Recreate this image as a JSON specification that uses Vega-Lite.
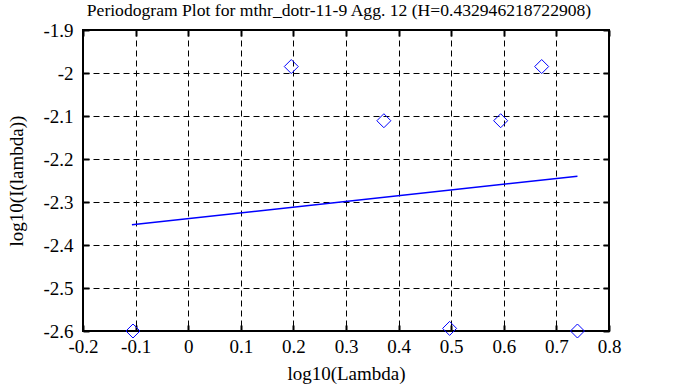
{
  "$schema": "https://vega.github.io/schema/vega-lite/v6.json",
  "autosize": "none",
  "width": 526,
  "height": 301,
  "padding": {"left": 83, "top": 30, "right": 69, "bottom": 56},
  "background": "white",
  "config": {
    "font": "Liberation Serif",
    "view": {"stroke": "black", "strokeWidth": 2},
    "axis": {"labelFont": "Liberation Serif", "titleFont": "Liberation Serif", "labelFontSize": 19, "titleFontSize": 19, "labelColor": "black", "titleColor": "black", "titleFontWeight": "normal"}
  },
  "title": {"text": "Periodogram Plot for mthr_dotr-11-9 Agg. 12 (H=0.432946218722908)", "font": "Liberation Serif", "fontSize": 17.6, "fontWeight": "normal", "color": "black", "anchor": "middle", "dx": -7, "offset": -17, "baseline": "bottom"},
  "resolve": {"axis": {"x": "independent", "y": "independent"}},
  "layer": [
    {
      "data": {"values": [
        {"x": -0.105, "y": -2.600},
        {"x": 0.196, "y": -1.985},
        {"x": 0.372, "y": -2.111},
        {"x": 0.497, "y": -2.594},
        {"x": 0.594, "y": -2.111},
        {"x": 0.672, "y": -1.985},
        {"x": 0.740, "y": -2.600}
      ]},
      "mark": {"type": "point", "shape": "diamond", "size": 196, "filled": false, "stroke": "#0000ff", "strokeWidth": 1, "opacity": 1, "clip": false},
      "encoding": {
        "x": {"field": "x", "type": "quantitative", "scale": {"domain": [-0.2, 0.8], "nice": false, "zero": false},
          "axis": {"orient": "bottom", "title": "log10(Lambda)", "titlePadding": 8, "values": [-0.2,-0.1,0,0.1,0.2,0.3,0.4,0.5,0.6,0.7,0.8], "labelExpr": "'' + round(datum.value*10)/10", "labelPadding": 12, "tickSize": -6, "tickColor": "black", "tickWidth": 2, "domain": false, "grid": true, "gridColor": "black", "gridDash": [6, 4], "gridWidth": 1, "gridOpacity": 1, "labelFlush": false}},
        "y": {"field": "y", "type": "quantitative", "scale": {"domain": [-2.6, -1.9], "nice": false, "zero": false},
          "axis": {"orient": "left", "title": "log10(I(lambda))", "titlePadding": 16, "values": [-2.6,-2.5,-2.4,-2.3,-2.2,-2.1,-2.0,-1.9], "labelExpr": "'' + round(datum.value*10)/10", "labelPadding": 16, "tickSize": -6, "tickColor": "black", "tickWidth": 2, "domain": false, "grid": true, "gridColor": "black", "gridDash": [6, 4], "gridWidth": 1, "gridOpacity": 1, "labelFlush": false}}
      }
    },
    {
      "data": {"values": [
        {"x": -0.107, "y": -2.353},
        {"x": 0.740, "y": -2.240}
      ]},
      "mark": {"type": "line", "color": "#0000ff", "strokeWidth": 1.5},
      "encoding": {
        "x": {"field": "x", "type": "quantitative", "axis": {"orient": "top", "title": null, "labels": false, "values": [-0.2,-0.1,0,0.1,0.2,0.3,0.4,0.5,0.6,0.7,0.8], "tickSize": -6, "tickColor": "black", "tickWidth": 2, "domain": false, "grid": false}},
        "y": {"field": "y", "type": "quantitative", "axis": {"orient": "right", "title": null, "labels": false, "values": [-2.6,-2.5,-2.4,-2.3,-2.2,-2.1,-2.0,-1.9], "tickSize": -6, "tickColor": "black", "tickWidth": 2, "domain": false, "grid": false}}
      }
    }
  ]
}
